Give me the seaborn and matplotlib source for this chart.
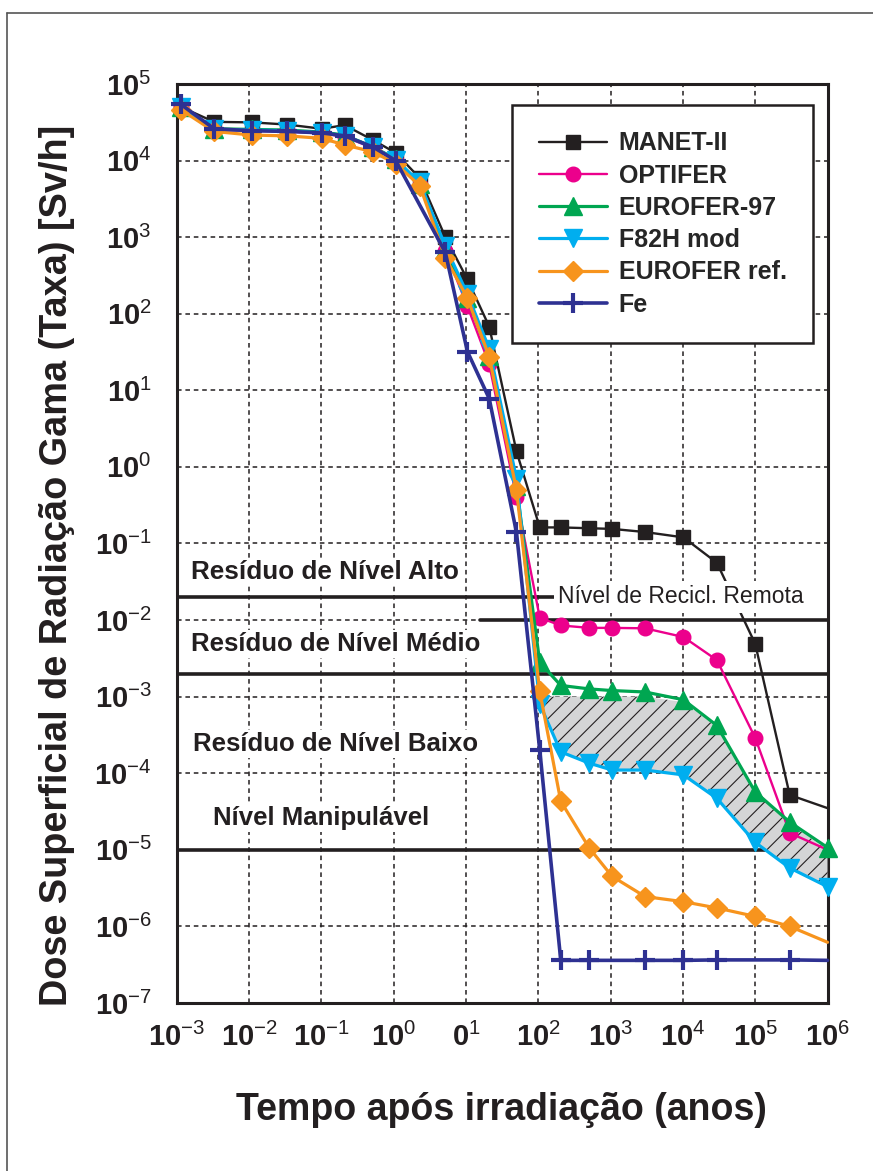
import numpy as np
import matplotlib
matplotlib.use('Agg')
import matplotlib.pyplot as plt
import seaborn as sns
from matplotlib.lines import Line2D

# tempo apos irradiacao (anos)
anos = [1.15e-3, 3.3e-3, 1.1e-2, 3.4e-2, 0.102, 0.21, 0.52, 1.07, 2.3, 5.2, 10.5, 21,
        50, 105, 205, 510, 1050, 3000, 1.02e4, 2.95e4, 1e5, 3e5, 1e6]

# dose superficial (Sv/h); None = sem ponto nesse tempo
manet = [5.0e4, 3.2e4, 3.15e4, 2.95e4, 2.6e4, 2.9e4, 1.85e4, 1.26e4, 5.9e3, 1.0e3, 2.8e2, 68,
         1.6, 0.162, 0.162, 0.158, 0.155, 0.141, 0.12, 0.056, 4.9e-3, 5.2e-5, 3.5e-5]
optifer = [5.0e4, 2.5e4, 2.45e4, 2.4e4, 2.25e4, 2.05e4, 1.45e4, 1.0e4, 4.8e3, 660, 125, 22,
           0.4, 1.07e-2, 8.5e-3, 7.9e-3, 7.9e-3, 7.8e-3, 6.0e-3, 3.0e-3, 2.9e-4, 1.66e-5, 1.0e-5]
eurofer97 = [5.0e4, 2.6e4, 2.55e4, 2.5e4, 2.35e4, 2.15e4, 1.5e4, 1.05e4, 5.0e3, 700, 160, 28,
             0.56, 2.8e-3, 1.4e-3, 1.26e-3, 1.2e-3, 1.15e-3, 9.1e-4, 4.2e-4, 5.7e-5, 2.3e-5, 1.07e-5]
f82h = [5.0e4, 2.55e4, 2.5e4, 2.45e4, 2.3e4, 2.1e4, 1.5e4, 1.02e4, 5.2e3, 760, 180, 35,
        0.7, 8.0e-4, 1.9e-4, 1.35e-4, 1.1e-4, 1.1e-4, 9.5e-5, 4.7e-5, 1.25e-5, 5.8e-6, 3.3e-6]
eurofer_ref = [4.6e4, 2.4e4, 2.15e4, 2.1e4, 1.95e4, 1.6e4, 1.3e4, 9.1e3, 4.7e3, 540, 160, 27.5,
               0.5, 1.17e-3, 4.3e-5, 1.05e-5, 4.5e-6, 2.45e-6, 2.1e-6, 1.74e-6, 1.35e-6, 1.0e-6, 6.2e-7]
fe = [5.4e4, 2.6e4, 2.45e4, 2.4e4, 2.3e4, 2.1e4, 1.5e4, 1.0e4, None, 630, 32, 7.8,
      0.14, 2.0e-4, 3.6e-7, 3.6e-7, None, 3.6e-7, 3.6e-7, 3.65e-7, None, 3.65e-7, 3.6e-7]

# regiao tracejada entre EUROFER-97 e F82H mod
faixa_anos = [110, 205, 510, 1050, 3000, 1.02e4, 2.95e4, 1e5, 3e5, 1e6]
faixa_topo = [1.0e-3, 1.0e-3, 1.0e-3, 1.0e-3, 1.0e-3, 8.5e-4, 4.0e-4, 5.5e-5, 2.2e-5, 1.0e-5]
faixa_base = [7.8e-4, 1.9e-4, 1.35e-4, 1.1e-4, 1.1e-4, 9.5e-5, 4.7e-5, 1.25e-5, 5.8e-6, 3.3e-6]

# limites dos niveis de residuo
limites = [2e-2, 1e-2, 2e-3, 1e-5]

rotulos_x = [r'$\mathbf{10}^{\mathrm{-3}}$', r'$\mathbf{10}^{\mathrm{-2}}$', r'$\mathbf{10}^{\mathrm{-1}}$',
             r'$\mathbf{10}^{\mathrm{0}}$', r'$\mathbf{0}^{\mathrm{1}}$', r'$\mathbf{10}^{\mathrm{2}}$',
             r'$\mathbf{10}^{\mathrm{3}}$', r'$\mathbf{10}^{\mathrm{4}}$', r'$\mathbf{10}^{\mathrm{5}}$',
             r'$\mathbf{10}^{\mathrm{6}}$']
rotulos_y = [r'$\mathbf{10}^{\mathrm{' + str(k) + '}}$' for k in range(-7, 6)]

sns.set_style('white')
plt.rcParams['font.family'] = ['Liberation Sans', 'DejaVu Sans']
plt.rcParams['mathtext.fontset'] = 'custom'
plt.rcParams['mathtext.rm'] = 'Liberation Sans'
plt.rcParams['mathtext.bf'] = 'Liberation Sans:bold'
plt.rcParams['hatch.linewidth'] = 0.8

fig = plt.figure(figsize=(8.73, 11.71), dpi=100)
ax = fig.add_axes([0.2023, 0.1435, 0.7456, 0.7848])
ax.set_xscale('log')
ax.set_yscale('log')

# (nome, dados, cor, marcador, tamanho, espessura)
estilos = [
    ('MANET-II', manet, '#231f20', 's', 9.5, 1.7),
    ('OPTIFER', optifer, '#ec008c', 'o', 10.5, 1.7),
    ('EUROFER-97', eurofer97, '#00a651', '^', 13, 2.3),
    ('F82H mod', f82h, '#00aeef', 'v', 13, 2.3),
    ('EUROFER ref.', eurofer_ref, '#f7941d', 'D', 10, 2.3),
    ('Fe', fe, '#2e3192', '+', 14, 2.6),
]

ax.fill_between(faixa_anos, faixa_base, faixa_topo, facecolor='#d4d5d6', edgecolor='#231f20',
                hatch='//', linewidth=0, zorder=2.6)

for i, (nome, dados, cor, marc, tam, esp) in enumerate(estilos):
    x = np.array([a for a, d in zip(anos, dados) if d is not None])
    y = np.array([d for d in dados if d is not None])
    if nome in ('EUROFER-97', 'F82H mod'):
        marcas = list(range(len(x)))
    else:
        marcas = list(range(len(x) - 1))   # sem marcador no ultimo ponto
    sns.lineplot(x=x, y=y, ax=ax, color=cor, marker=marc, markersize=tam, linewidth=esp,
                 markeredgecolor=cor, markeredgewidth=3 if marc == '+' else 1,
                 markevery=marcas, label=nome, clip_on=False, zorder=3 + i * 0.1)

# linhas dos niveis
ax.axhline(limites[0], xmin=0, xmax=0.6, color='#231f20', linewidth=2.6, zorder=2.5)
ax.axhline(limites[1], xmin=0.466, xmax=1, color='#231f20', linewidth=2.6, zorder=2.5)
ax.axhline(limites[2], color='#231f20', linewidth=2.6, zorder=2.5)
ax.axhline(limites[3], color='#231f20', linewidth=2.6, zorder=2.5)

caixa = dict(facecolor='white', edgecolor='none', pad=1.5)
ax.text(1.58e-3, 0.0426, 'Resíduo de Nível Alto', fontsize=18.8, fontweight='bold', color='#231f20',
        ha='left', va='center', bbox=caixa, zorder=6)
ax.text(1.58e-3, 4.9e-3, 'Resíduo de Nível Médio', fontsize=18.5, fontweight='bold', color='#231f20',
        ha='left', va='center', bbox=caixa, zorder=6)
ax.text(1.7e-3, 2.4e-4, 'Resíduo de Nível Baixo', fontsize=18.5, fontweight='bold', color='#231f20',
        ha='left', va='center', bbox=caixa, zorder=6)
ax.text(3.2e-3, 2.6e-5, 'Nível Manipulável', fontsize=18.5, fontweight='bold', color='#231f20',
        ha='left', va='center', bbox=caixa, zorder=6)
ax.text(188, 0.02, 'Nível de Recicl. Remota', fontsize=16.5, color='#231f20',
        ha='left', va='center', bbox=dict(facecolor='white', edgecolor='none', pad=3), zorder=6)

ax.set_xlim(1e-3, 1e6)
ax.set_ylim(1e-7, 1e5)
ax.set_xticks([10.0 ** k for k in range(-3, 7)])
ax.set_xticklabels(rotulos_x)
ax.set_yticks([10.0 ** k for k in range(-7, 6)])
ax.set_yticklabels(rotulos_y)
ax.minorticks_off()
ax.tick_params(axis='both', length=0, labelsize=21, colors='#231f20')
ax.tick_params(axis='x', pad=14)
ax.tick_params(axis='y', pad=18)

ax.set_axisbelow(True)
ax.grid(True, which='major', color='#231f20', linestyle=(0, (3, 2.5)), linewidth=1.1)
for s in ax.spines.values():
    s.set_color('#231f20')
    s.set_linewidth(2.2)
ax.set_xlabel('')
ax.set_ylabel('')

leg = ax.legend(loc='upper left', bbox_to_anchor=(0.516, 0.977), borderaxespad=0,
                fancybox=False, frameon=True, edgecolor='#231f20', framealpha=1,
                prop={'size': 18, 'weight': 'bold'}, handlelength=2.75, handletextpad=0.45,
                borderpad=1.05, labelspacing=0.33)
leg.get_frame().set_linewidth(1.8)
leg.set_zorder(10)

fig.text(501 / 873, 1 - 1110 / 1171, 'Tempo após irradiação (anos)', fontsize=27,
         fontweight='bold', color='#231f20', ha='center', va='center')
fig.text(57 / 873, 1 - 565 / 1171, 'Dose Superficial de Radiação Gama (Taxa) [Sv/h]', fontsize=27.3,
         fontweight='bold', color='#231f20', ha='center', va='center', rotation=90)

# moldura da figura
fig.add_artist(Line2D([7 / 873, 1], [1 - 13 / 1171, 1 - 13 / 1171], transform=fig.transFigure,
                      color='#555555', linewidth=1.2))
fig.add_artist(Line2D([7 / 873, 7 / 873], [0, 1 - 13 / 1171], transform=fig.transFigure,
                      color='#555555', linewidth=1.2))

fig.savefig('out.png', dpi=100)
